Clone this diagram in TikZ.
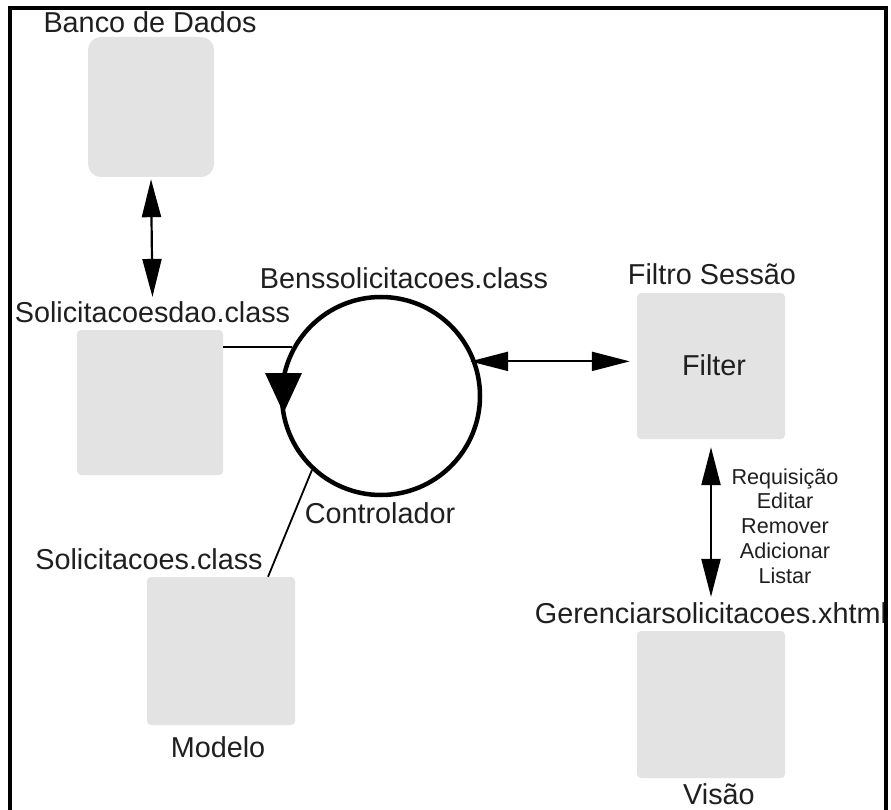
\documentclass[tikz,border=0pt]{standalone}
\usepackage{fontspec}
\setmainfont{Liberation Sans}
\usetikzlibrary{arrows.meta}
\definecolor{boxgray}{HTML}{E3E3E3}
\begin{document}
\begin{tikzpicture}[x=1pt,y=-1pt,
  box/.style={fill=boxgray, rounded corners=4pt, inner sep=0pt},
  lbl/.style={font=\fontsize{28.8}{34}\selectfont, inner sep=0pt, anchor=base, text=black!88},
  small/.style={font=\fontsize{21.6}{24.75}\selectfont, inner sep=0pt, align=center, text=black!88},
  dbl/.style={line width=2.2pt, {Triangle[length=38pt,width=19pt]}-{Triangle[length=38pt,width=19pt]}},
  link/.style={line width=1.8pt}]
\useasboundingbox (0,0) rectangle (891,810);
\clip (0,0) rectangle (891,810);

% storage, model and data access
\node[box, rounded corners=13pt, minimum width=126pt, minimum height=140pt] (db) at (151,107) {};
\node[lbl] (dbl) at (150,33) {Banco de Dados};
\node[box, minimum width=146pt, minimum height=145pt] (dao) at (150,402.5) {};
\node[lbl] (daol) at (152.5,322) {Solicitacoesdao.class};
\node[box, minimum width=148pt, minimum height=148pt] (modelo) at (221,651) {};
\node[lbl] (modl) at (149,569) {Solicitacoes.class};
\node[lbl] (modn) at (218,757) {Modelo};

% controller
\node[circle, draw, line width=4.5pt, minimum size=198pt, inner sep=0pt] (ctrl) at (381,396) {};
\node[lbl] (ctrll) at (404,288) {Benssolicitacoes.class};
\node[lbl] (ctrln) at (380,523) {Controlador};
\fill (265,373) -- (302,373) -- (283.5,413) -- cycle;

% filter and view
\node[box, minimum width=148pt, minimum height=146pt] (filter) at (711,366) {};
\node[lbl] (filterl) at (712,284) {Filtro Sessão};
\node[lbl] (filtern) at (714,375) {Filter};
\node[box, minimum width=148pt, minimum height=147pt] (visao) at (711,704.5) {};
\node[lbl] (visl) at (711,623) {Gerenciarsolicitacoes.xhtml};
\node[lbl] (visn) at (719,804) {Visão};
\node[small] (ops) at (785,526) {Requisição\\Editar\\Remover\\Adicionar\\Listar};

% connectors
\draw[dbl, shorten <=2pt, shorten >=4pt] (db.south) -- (daol.north);
\draw[link] (ctrl.151) -- (ctrl.151 -| dao.east);
\draw[link] (ctrl.227) -- ([xshift=47pt]modelo.north);
\draw[dbl, shorten <=-6pt, shorten >=7pt] (ctrl.20) -- (ctrl.20 -| filter.west);
\draw[dbl, shorten <=8pt, shorten >=5pt] (filter.south) -- (visl.north);

% frame
\draw[line width=4.5pt] (10,815) -- (10,8) -- (886,8) -- (886,815);
\end{tikzpicture}
\end{document}
